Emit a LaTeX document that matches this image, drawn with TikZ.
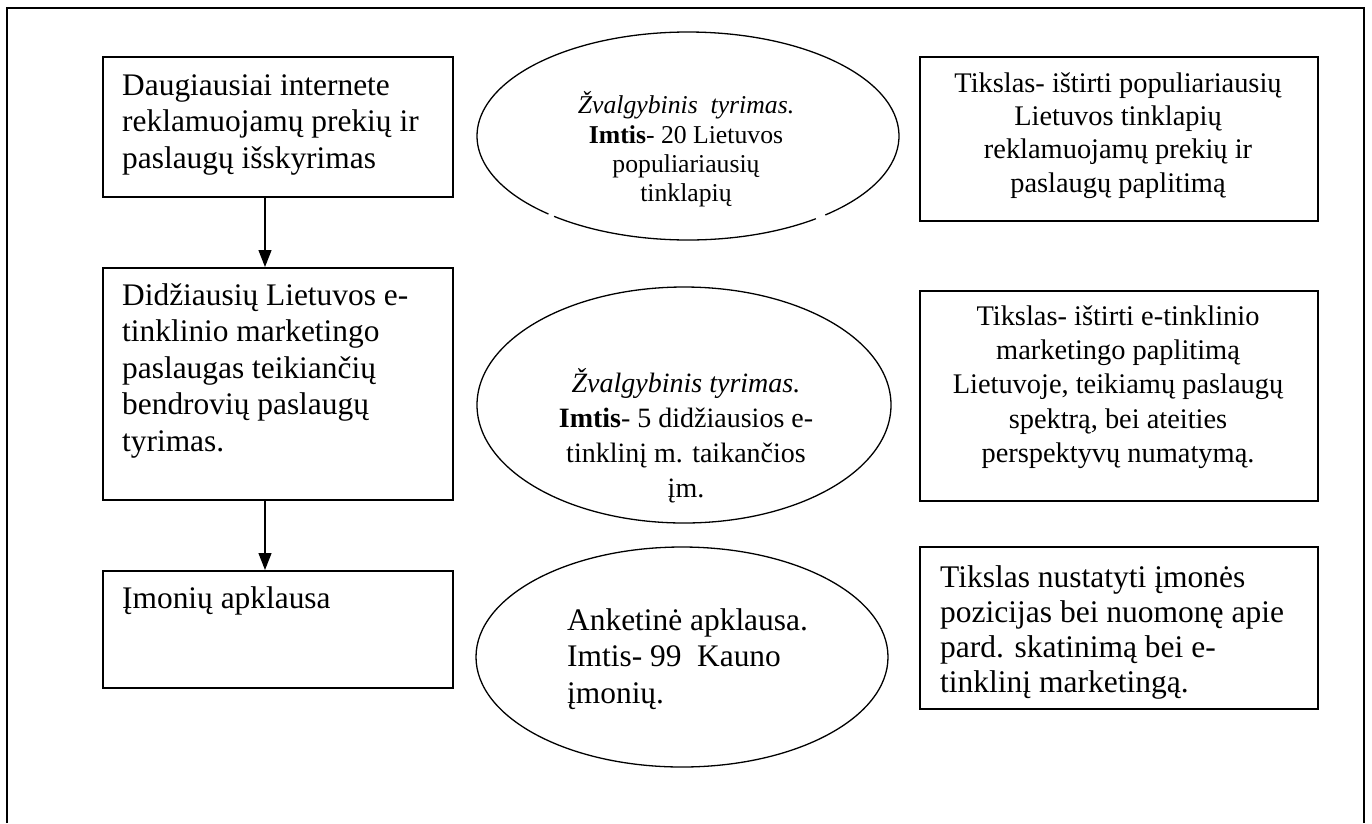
\documentclass[tikz,border=0pt]{standalone}
\usepackage{fontspec}
\setmainfont{Liberation Serif}
\usetikzlibrary{arrows.meta,shapes.geometric}
\begin{document}
\begin{tikzpicture}[x=1pt,y=-1pt,
  stepbox/.style={draw,line width=1.5pt,rectangle,inner sep=0pt,anchor=north west},
  oval/.style={ellipse,inner sep=0pt,line width=1.3pt},
  ctxt/.style={inner sep=0pt,anchor=north,align=center},
  ltxt/.style={inner sep=0pt,anchor=north west,align=left},
  big/.style={font=\fontsize{31.4}{36.5}\selectfont},
  arr/.style={line width=1.3pt,-{Triangle[length=17pt,width=13pt]}}]
\useasboundingbox (0,0) rectangle (1372,823);
\fill[white] (0,0) rectangle (1372,823);

% outer frame, open at the bottom
\draw[line width=2pt] (7,823) -- (7,8) -- (1364,8) -- (1364,823);

% left column: research stages
\node[stepbox,minimum width=350pt,minimum height=140pt] (b1) at (102,56) {};
\node[stepbox,minimum width=350pt,minimum height=232pt] (b2) at (102,267) {};
\node[stepbox,minimum width=350pt,minimum height=117pt] (b3) at (102,570) {};

\node[ltxt,big] (t1) at (122,69.5)
  {\strut Daugiausiai internete\\reklamuojamų prekių ir\\paslaugų išskyrimas};
\node[ltxt,big] (t2) at (122,279.5)
  {\strut Didžiausių Lietuvos e-\\tinklinio marketingo\\paslaugas teikiančių\\bendrovių paslaugų\\tyrimas.};
\node[ltxt,big] (t3) at (122,582.5) {\strut Įmonių apklausa};

\coordinate (ax) at (265,0);
\draw[arr] (b1.south -| ax) -- (b2.north -| ax);
\draw[arr] (b2.south -| ax) -- (b3.north -| ax);

% middle column: methods
\node[oval,minimum width=422pt,minimum height=208pt] (e1) at (688,136) {};
\draw[line width=1.3pt] (e1.center) ++(230.6:211pt and 104pt)
  arc[start angle=230.6,end angle=307.3,x radius=211pt,y radius=104pt];
\draw[line width=1.3pt] (e1.center) ++(310.6:211pt and 104pt)
  arc[start angle=310.6,end angle=588.6,x radius=211pt,y radius=104pt];
\node[oval,draw,minimum width=414pt,minimum height=236pt] (e2) at (684,405) {};
\node[oval,draw,minimum width=412pt,minimum height=220pt] (e3) at (682,657) {};

\node[ctxt,font=\fontsize{25.7}{29.4}\selectfont] (m1) at (686,91.4)
  {\strut\textit{Žvalgybinis~ tyrimas.}\\\textbf{Imtis}- 20 Lietuvos\\populiariausių\\tinklapių};
\node[ctxt,font=\fontsize{28}{35}\selectfont] (m2) at (686,367.5)
  {\strut\textit{Žvalgybinis tyrimas.}\\\textbf{Imtis}- 5 didžiausios e-\\tinklinį m. taikančios\\įm.};
\node[ltxt,big] (m3) at (567,604.5)
  {\strut Anketinė apklausa.\\Imtis- 99~ Kauno\\įmonių.};

% right column: goals
\node[stepbox,minimum width=398pt,minimum height=164pt] (r1) at (919,56) {};
\node[stepbox,minimum width=398pt,minimum height=210pt] (r2) at (919,290) {};
\node[stepbox,minimum width=398pt,minimum height=162pt] (r3) at (919,546) {};

\node[ctxt,font=\fontsize{28.4}{33.3}\selectfont] (g1) at (1118,68.7)
  {\strut Tikslas- ištirti populiariausių\\Lietuvos tinklapių\\reklamuojamų prekių ir\\paslaugų paplitimą};
\node[ctxt,font=\fontsize{28.4}{34.3}\selectfont] (g2) at (1118,301)
  {\strut Tikslas- ištirti e-tinklinio\\marketingo paplitimą\\Lietuvoje, teikiamų paslaugų\\spektrą, bei ateities\\perspektyvų numatymą.};
\node[ltxt,font=\fontsize{31.5}{35}\selectfont] (g3) at (940,562.5)
  {\strut Tikslas nustatyti įmonės\\pozicijas bei nuomonę apie\\pard. skatinimą bei e-\\tinklinį marketingą.};
\end{tikzpicture}
\end{document}
